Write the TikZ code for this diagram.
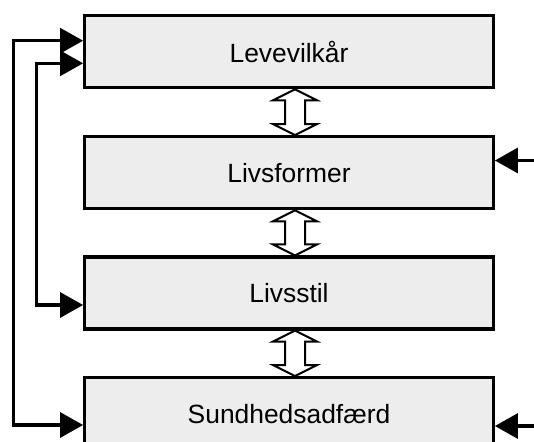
\documentclass[tikz,border=0pt]{standalone}
\usepackage{fontspec}
\setmainfont{Liberation Sans}
\usetikzlibrary{arrows.meta,calc}
\begin{document}
\begin{tikzpicture}[font=\fontsize{26.4pt}{30pt}\selectfont,
  box/.style={draw,line width=3.2pt,fill=black!7,minimum width=408.6pt,minimum height=72pt},
  conn/.style={line width=3.2pt},
  hollow/.style={line width=2pt,fill=white,line join=miter},
  >={Triangle[length=23pt,width=25pt]}]
\clip(0,0)rectangle(534pt,-441pt);
\node[box](lv)at(289pt,-51.7pt){Levevilkår};
\node[box](lf)at(289pt,-172.7pt){Livsformer};
\node[box](ls)at(289pt,-293pt){Livsstil};
\node[box](sa)at(289pt,-413.7pt){Sundhedsadfærd};
\foreach \a/\b in {lv/lf,lf/ls,ls/sa}
  \draw[hollow]let\p1=([xshift=6pt]\a.south),\p2=([xshift=6pt]\b.north)in
  (\p1)--++(22pt,-11pt)--++(-12pt,0)--(\x1+10pt,\y2+11pt)--++(12pt,0)--(\p2)
  --++(-22pt,11pt)--++(12pt,0)--(\x1-10pt,\y1-11pt)--++(-12pt,0)--cycle;
\draw[conn,<->]([yshift=11pt]lv.west)--++(-70pt,0)|-([yshift=-11.3pt]sa.west);
\draw[conn,<->]([yshift=-11.6pt]lv.west)--++(-46.7pt,0)|-([yshift=-12pt]ls.west);
\coordinate(r1)at(534pt,-160.5pt);
\coordinate(r2)at(534pt,-426pt);
\draw[conn,->](r1)--(lf.east|-r1);
\draw[conn,->](r2)--(sa.east|-r2);
\end{tikzpicture}
\end{document}
